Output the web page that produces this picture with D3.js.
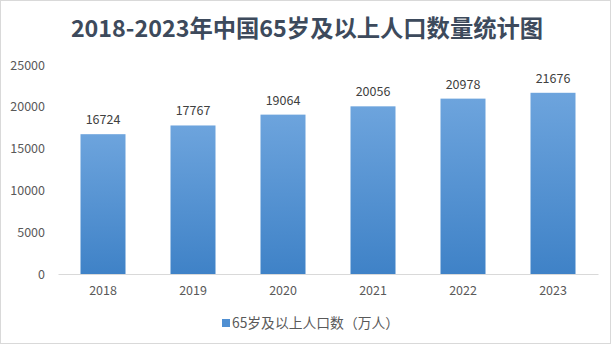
<!DOCTYPE html>
<html><head><meta charset="utf-8">
<script src="https://cdn.jsdelivr.net/npm/d3@7"></script>
<style>html,body{margin:0;padding:0;background:#fff;}svg{display:block;}</style>
</head><body>
<svg id="c" width="615" height="346"></svg>
<script>
const categories = ["2018","2019","2020","2021","2022","2023"];
const values = [16724,17767,19064,20056,20978,21676];
const yTicks = [0,5000,10000,15000,20000,25000];
const title = "2018-2023年中国65岁及以上人口数量统计图";
const seriesName = "65岁及以上人口数（万人）";

const svg = d3.select("#c");
const font = "'Noto Sans CJK SC','Noto Sans',sans-serif";
const m = {left:58, right:17, top:65, bottom:72};
const W = 615, H = 346;

svg.append("rect").attr("x",0.5).attr("y",0.5).attr("width",W-5).attr("height",H-3)
  .attr("fill","#fff").attr("stroke","#d9d9d9");

const defs = svg.append("defs");
const g = defs.append("linearGradient").attr("id","bg").attr("x1",0).attr("y1",0).attr("x2",0).attr("y2",1);
g.append("stop").attr("offset","0%").attr("stop-color","#6da4dd");
g.append("stop").attr("offset","100%").attr("stop-color","#3f82c7");

const x = d3.scaleBand().domain(categories).range([m.left, W-m.right]).paddingInner(0.5).paddingOuter(0.25);
const y = d3.scaleLinear().domain([0,25000]).range([274, 65]);

svg.append("text").attr("x",307).attr("y",37).attr("text-anchor","middle")
  .attr("font-family",font).attr("font-weight","bold").attr("font-size",23.3)
  .attr("fill","#3d4a5c").text(title);

const ya = svg.append("g").attr("transform",`translate(${m.left},0)`)
  .call(d3.axisLeft(y).tickValues(yTicks).tickSize(0).tickPadding(13).tickFormat(d3.format("d")));
ya.select(".domain").remove();
ya.selectAll("text").attr("font-family",font).attr("font-size",12.5).attr("fill","#595959");

svg.selectAll("rect.bar").data(values).enter().append("rect").attr("class","bar")
  .attr("x",(d,i)=>x(categories[i])).attr("width",x.bandwidth())
  .attr("y",d=>y(d)).attr("height",d=>y(0)-y(d)).attr("fill","url(#bg)");

svg.selectAll("text.lbl").data(values).enter().append("text").attr("class","lbl")
  .attr("x",(d,i)=>x(categories[i])+x.bandwidth()/2).attr("y",d=>y(d)-10)
  .attr("text-anchor","middle").attr("font-family",font).attr("font-size",12.5)
  .attr("fill","#404040").text(d=>d);

const xa = svg.append("g").attr("transform",`translate(0,${y(0)})`)
  .call(d3.axisBottom(x).tickSize(0).tickPadding(12));
xa.select(".domain").attr("stroke","#d9d9d9").attr("stroke-width",1);
xa.selectAll("text").attr("font-family",font).attr("font-size",12.5).attr("fill","#595959");

const lg = svg.append("g");
lg.append("rect").attr("x",222).attr("y",319).attr("width",8).attr("height",8).attr("fill","#4f8fd2");
lg.append("text").attr("x",232).attr("y",328).attr("font-family",font).attr("font-size",13.8)
  .attr("fill","#595959").text(seriesName);
</script>
</body></html>
